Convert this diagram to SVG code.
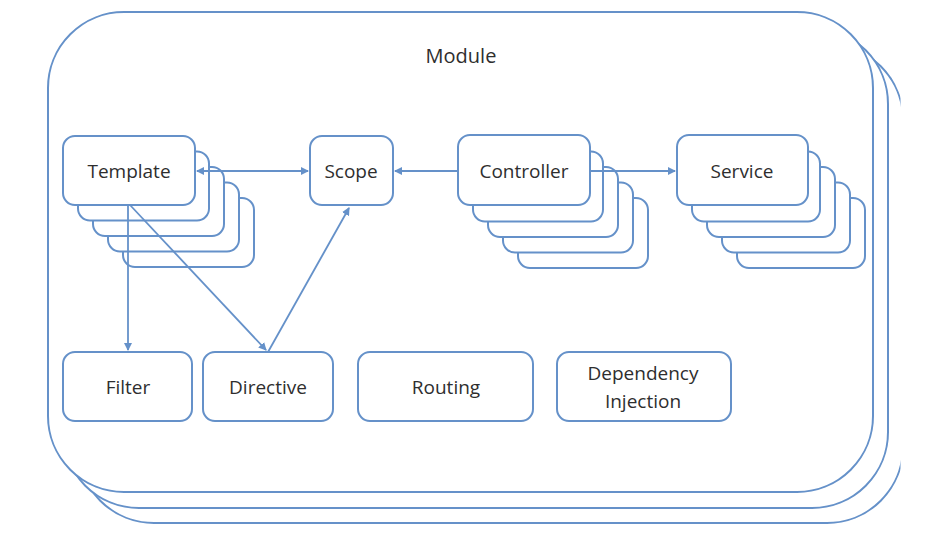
<svg xmlns="http://www.w3.org/2000/svg" width="926" height="558" viewBox="0 0 926 558">
  <style>
    .frame { fill: #ffffff; stroke: #6591c9; stroke-width: 2; }
    .box { fill: #ffffff; stroke: #6591c9; stroke-width: 2; }
    .label { font-family: "Open Sans", "Liberation Sans", sans-serif; font-size: 19px; fill: #2e2e2e; text-anchor: middle; }
    .link { fill: none; stroke: #6591c9; stroke-width: 1.8; }
  </style>
  <defs>
    <marker id="arrow" viewBox="0 0 8 8" refX="7" refY="4" markerWidth="4.5" markerHeight="4.5" orient="auto-start-reverse" markerUnits="strokeWidth">
      <path d="M0,0 L8,4 L0,8 Z" fill="#6591c9"/>
    </marker>
    <clipPath id="page">
      <rect x="0" y="0" width="900.5" height="558"/>
    </clipPath>
  </defs>

  <rect width="926" height="558" fill="#ffffff"/>

  <!-- Module: three stacked layers -->
  <g id="module">
    <g clip-path="url(#page)">
      <rect class="frame" x="78" y="44" width="825" height="479" rx="76"/>
      <rect class="frame" x="63" y="28" width="825" height="480" rx="76"/>
    </g>
    <rect class="frame" x="48" y="12" width="825" height="480" rx="76"/>
    <text class="label" x="461" y="63" style="font-size:20px">Module</text>
  </g>

  <!-- Template: stacked instances -->
  <g id="template">
    <rect class="box" x="123" y="198" width="131" height="69" rx="12"/>
    <rect class="box" x="108" y="182.5" width="131" height="69" rx="12"/>
    <rect class="box" x="93" y="167" width="131" height="69" rx="12"/>
    <rect class="box" x="78" y="151.5" width="131" height="69" rx="12"/>
    <rect class="box" x="63" y="136" width="132" height="69" rx="12"/>
    <text class="label" x="129" y="178">Template</text>
  </g>

  <!-- Scope -->
  <g id="scope">
    <rect class="box" x="310" y="136" width="83" height="69" rx="12"/>
    <text class="label" x="351" y="178">Scope</text>
  </g>

  <!-- Controller: stacked instances -->
  <g id="controller">
    <rect class="box" x="518" y="198" width="130" height="70" rx="12"/>
    <rect class="box" x="503" y="182.5" width="130" height="70" rx="12"/>
    <rect class="box" x="488" y="167" width="130" height="70" rx="12"/>
    <rect class="box" x="473" y="151.5" width="130" height="70" rx="12"/>
    <rect class="box" x="458" y="135" width="132" height="70" rx="12"/>
    <text class="label" x="524" y="178">Controller</text>
  </g>

  <!-- Service: stacked instances -->
  <g id="service">
    <rect class="box" x="737" y="198" width="128" height="70" rx="12"/>
    <rect class="box" x="722" y="182.5" width="128" height="70" rx="12"/>
    <rect class="box" x="707" y="167" width="128" height="70" rx="12"/>
    <rect class="box" x="692" y="151.5" width="128" height="70" rx="12"/>
    <rect class="box" x="677" y="135" width="131" height="70" rx="12"/>
    <text class="label" x="742" y="178">Service</text>
  </g>

  <!-- Bottom row -->
  <g id="filter">
    <rect class="box" x="63" y="352" width="129" height="69" rx="12"/>
    <text class="label" x="128" y="394">Filter</text>
  </g>
  <g id="directive">
    <rect class="box" x="203" y="352" width="130" height="69" rx="12"/>
    <text class="label" x="268" y="394">Directive</text>
  </g>
  <g id="routing">
    <rect class="box" x="358" y="352" width="175" height="69" rx="12"/>
    <text class="label" x="446" y="394">Routing</text>
  </g>
  <g id="dependency-injection">
    <rect class="box" x="557" y="352" width="174" height="69" rx="12"/>
    <text class="label" x="643" y="380">Dependency</text>
    <text class="label" x="643" y="408">Injection</text>
  </g>

  <!-- Connectors -->
  <g id="connectors">
    <path class="link" d="M197,171 H308" marker-start="url(#arrow)" marker-end="url(#arrow)"/>
    <path class="link" d="M458,171 H395" marker-end="url(#arrow)"/>
    <path class="link" d="M590,171 H675" marker-end="url(#arrow)"/>
    <path class="link" d="M128,205 V350" marker-end="url(#arrow)"/>
    <path class="link" d="M130,205 L266,350" marker-end="url(#arrow)"/>
    <path class="link" d="M268,352 L349,208" marker-end="url(#arrow)"/>
  </g>
</svg>
